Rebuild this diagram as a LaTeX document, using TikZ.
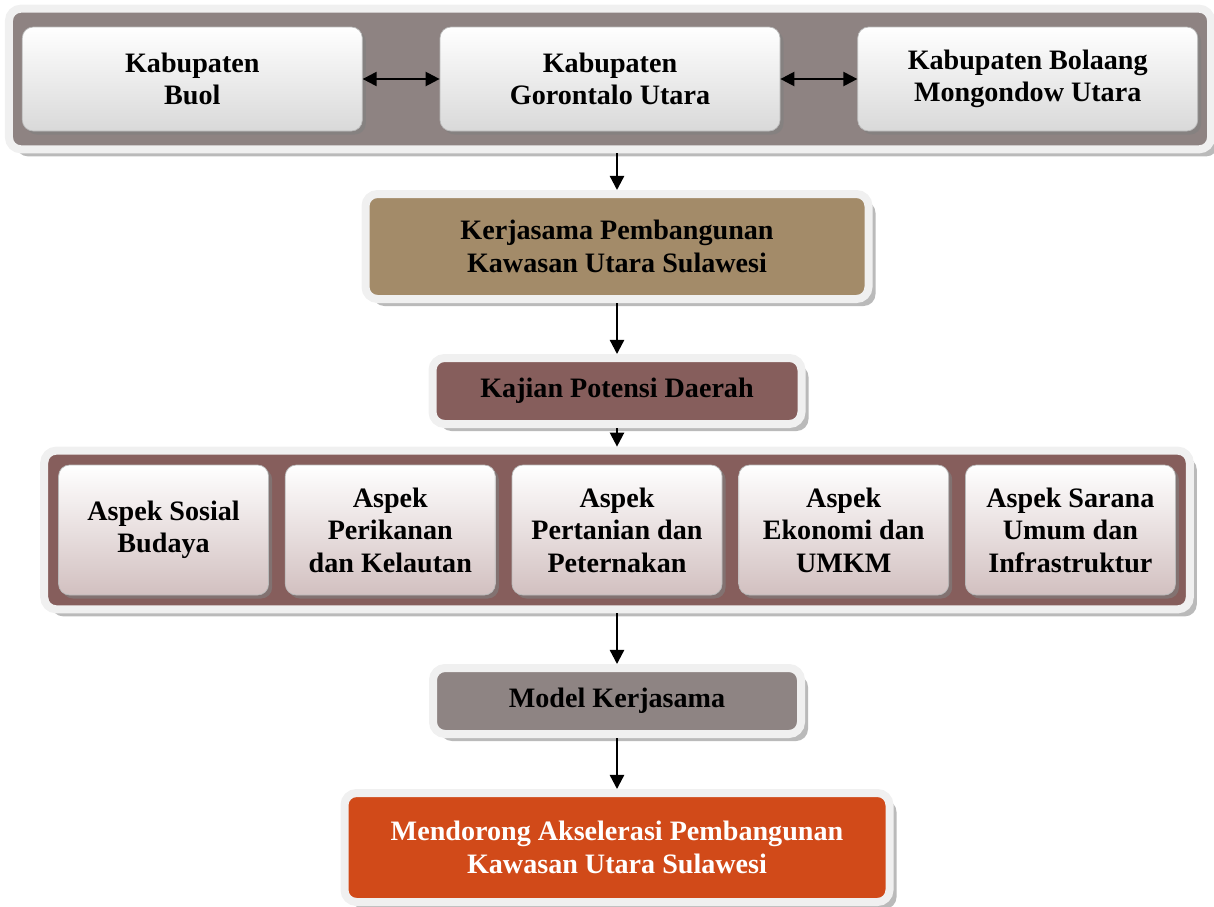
\documentclass[tikz,border=0pt]{standalone}
\usepackage{fontspec}
\setmainfont{Liberation Serif}
\usetikzlibrary{positioning, arrows.meta, shadows, fit, backgrounds}
\definecolor{bandgray}{RGB}{142,131,130}
\definecolor{kerjabrown}{RGB}{163,139,105}
\definecolor{kajianred}{RGB}{134,94,92}
\definecolor{modelgray}{RGB}{142,132,131}
\definecolor{dorongorange}{RGB}{209,74,25}
\definecolor{framegray}{RGB}{240,240,240}
\definecolor{aspekpink}{RGB}{210,192,192}

\begin{document}
\begin{tikzpicture}[
    font=\fontsize{16}{18.5}\selectfont\bfseries,
    kab/.style={rectangle, rounded corners=0.22cm, minimum width=6.8cm, minimum height=2.08cm, text centered, align=center, draw=gray!55, top color=white, bottom color=gray!30, drop shadow={shadow xshift=2pt, shadow yshift=-2pt, fill=black!50, opacity=0.6}},
    aspek/.style={kab, minimum width=4.2cm, minimum height=2.6cm, bottom color=aspekpink},
    framed/.style={rectangle, rounded corners=0.24cm, text centered, align=center, draw=framegray, line width=0.16cm, drop shadow={shadow xshift=4pt, shadow yshift=-4pt, fill=black!45, opacity=0.6}},
    arrow/.style={line width=1.3pt, -{Triangle[length=8pt, width=8pt]}},
    dblarrow/.style={line width=1.3pt, {Triangle[length=8pt, width=8pt]}-{Triangle[length=8pt, width=8pt]}},
]
\useasboundingbox (0,0) rectangle (24.28,-18.12);

% Kabupaten row
\node[kab] (gtu) at (12.2,-1.58) {Kabupaten\\Gorontalo Utara};
\node[kab, left=1.54cm of gtu] (buol) {Kabupaten\\Buol};
\node[kab, right=1.54cm of gtu] (bmu) {Kabupaten Bolaang\\Mongondow Utara};
\begin{scope}[on background layer]
\node[framed, fill=bandgray, fit=(buol)(gtu)(bmu), inner xsep=0.26cm, inner ysep=0.36cm] (kabband) {};
\end{scope}

% Kerjasama
\node[framed, fill=kerjabrown, minimum width=10.06cm, minimum height=2.1cm] (kerja) at (12.34,-4.93) {Kerjasama Pembangunan\\Kawasan Utara Sulawesi};

% Kajian
\node[framed, fill=kajianred, minimum width=7.38cm, minimum height=1.32cm] (kajian) at (12.34,-7.82) {Kajian Potensi Daerah};

% Aspek row
\node[aspek] (asp3) at (12.34,-10.6) {Aspek\\Pertanian dan\\Peternakan};
\node[aspek, left=0.32cm of asp3] (asp2) {Aspek\\Perikanan\\dan Kelautan};
\node[aspek, left=0.32cm of asp2] (asp1) {Aspek Sosial\\Budaya};
\node[aspek, right=0.32cm of asp3] (asp4) {Aspek\\Ekonomi dan\\UMKM};
\node[aspek, right=0.32cm of asp4] (asp5) {Aspek Sarana\\Umum dan\\Infrastruktur};
\begin{scope}[on background layer]
\node[framed, fill=kajianred, fit=(asp1)(asp5), inner sep=0.28cm] (aspband) {};
\end{scope}

% Model
\node[framed, fill=modelgray, minimum width=7.36cm, minimum height=1.32cm] (model) at (12.34,-14.02) {Model Kerjasama};

% Tujuan
\node[framed, fill=dorongorange, text=white, minimum width=10.9cm, minimum height=2.18cm] (dorong) at (12.34,-16.95) {Mendorong Akselerasi Pembangunan\\Kawasan Utara Sulawesi};

% Arrows
\draw[dblarrow] (buol) -- (gtu);
\draw[dblarrow] (gtu) -- (bmu);
\draw[arrow] (kabband.south -| kerja.north) -- (kerja.north);
\draw[arrow] (kerja) -- (kajian);
\draw[arrow] (kajian) -- (aspband);
\draw[arrow] (aspband) -- (model);
\draw[arrow] (model) -- (dorong);

\end{tikzpicture}
\end{document}
